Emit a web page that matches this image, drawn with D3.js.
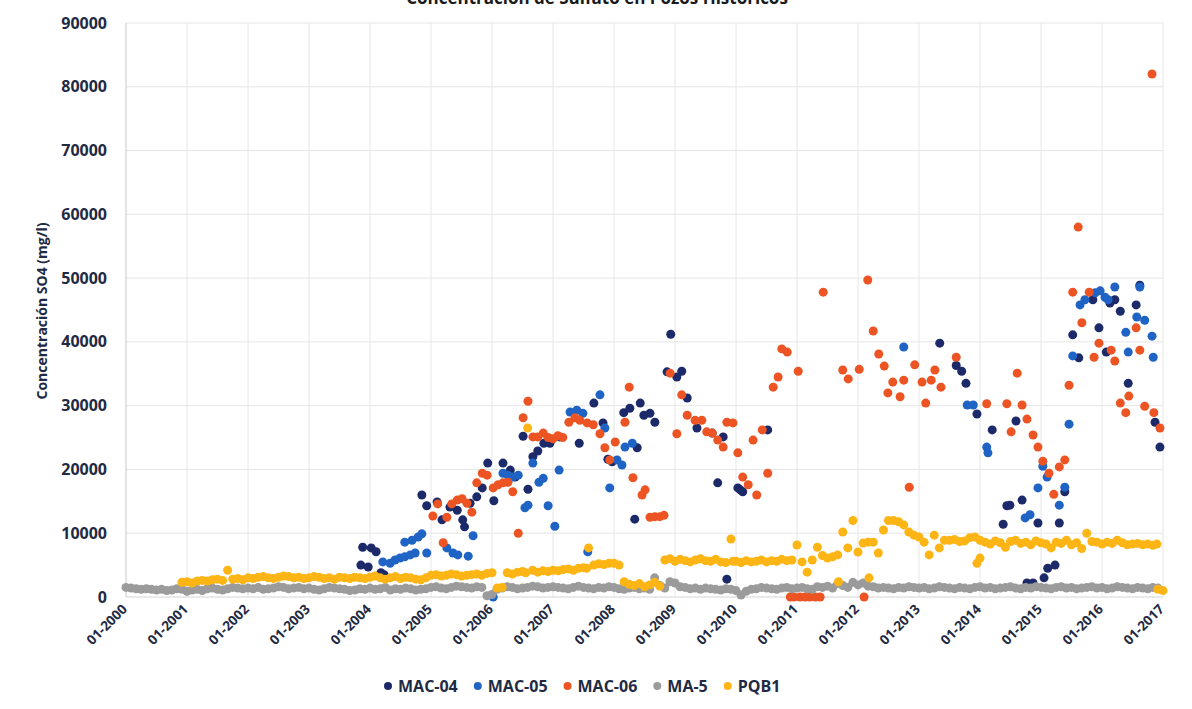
<!DOCTYPE html>
<html>
<head>
<meta charset="utf-8">
<script src="https://cdn.jsdelivr.net/npm/d3@7"></script>
<style>
  body { margin: 0; background: #fff; }
  svg { display: block; font-family: "Open Sans", sans-serif; }
</style>
</head>
<body>
<div id="chart"></div>
<script>
// Series names and colours
var SERIES = ['MAC-04', 'MAC-05', 'MAC-06', 'MA-5', 'PQB1'];
var COLORS = ['#1c2a69', '#1f63c4', '#ec5523', '#9b9b9b', '#fdb515'];

var yearTicks = [2000, 2001, 2002, 2003, 2004, 2005, 2006, 2007, 2008, 2009,
                 2010, 2011, 2012, 2013, 2014, 2015, 2016, 2017];
var valueTicks = [0, 10000, 20000, 30000, 40000, 50000, 60000, 70000, 80000, 90000];

// [decimal year, SO4 mg/l]
var mac04 = [
  [2003.85,5000],[2003.88,7800],[2003.97,4700],[2004.02,7700],[2004.10,7100],[2004.18,3800],[2004.23,3500],
  [2004.85,16000],[2004.93,14300],[2005.10,14900],[2005.18,12100],[2005.31,14100],[2005.43,13600],
  [2005.52,12100],[2005.55,11000],[2005.64,14700],[2005.75,15700],[2005.84,17100],[2005.93,21000],
  [2006.03,15100],[2006.18,21000],[2006.30,19900],[2006.38,18800],[2006.51,25200],[2006.59,16900],
  [2006.67,22000],[2006.75,22900],[2006.85,24100],[2006.95,24100],[2007.11,25100],[2007.43,24100],
  [2007.67,30400],[2007.82,27300],[2007.90,21600],[2007.97,21200],[2008.16,28900],[2008.26,29600],
  [2008.34,12200],[2008.38,23400],[2008.43,30400],[2008.49,28500],[2008.59,28800],[2008.67,27400],
  [2008.87,35300],[2008.93,41200],[2009.03,34500],[2009.11,35400],[2009.20,31200],[2009.36,26500],
  [2009.61,25700],[2009.70,17900],[2009.79,25100],[2009.85,2800],[2010.03,17100],[2010.07,16800],
  [2010.11,16500],[2010.52,26200],
  [2013.34,39800],[2013.61,36300],[2013.70,35400],[2013.77,33500],[2013.95,28700],[2014.20,26200],
  [2014.38,11400],[2014.44,14300],[2014.49,14400],[2014.59,27600],[2014.69,15200],[2014.77,2200],
  [2014.87,2200],[2014.95,11600],[2015.05,3000],[2015.11,4500],[2015.23,5000],[2015.30,11600],
  [2015.39,16500],[2015.52,41100],[2015.62,37500],[2015.85,46600],[2015.95,42200],[2016.07,38400],
  [2016.13,46100],[2016.21,46600],[2016.30,44800],[2016.43,33500],[2016.56,45800],[2016.62,48900],
  [2016.87,27400],[2016.95,23500]
];

var mac05 = [
  [2004.21,5500],[2004.33,5300],[2004.41,5800],[2004.49,6100],[2004.57,6300],[2004.66,6600],[2004.74,6900],
  [2004.57,8600],[2004.69,8900],[2004.79,9400],[2004.85,9900],[2004.93,6900],[2005.26,7700],
  [2005.36,6900],[2005.44,6600],[2005.61,6400],[2005.69,9600],[2006.02,0],[2006.18,19400],
  [2006.26,19100],[2006.34,18800],[2006.43,19100],[2006.54,14000],[2006.59,14400],[2006.67,21000],
  [2006.77,18000],[2006.84,18600],[2006.92,14300],[2007.03,11100],[2007.10,19900],[2007.28,29000],
  [2007.39,29300],[2007.49,28800],[2007.57,7100],[2007.77,31700],[2007.85,26500],[2007.93,17100],
  [2008.05,21500],[2008.13,20700],[2008.18,23500],[2008.30,24100],
  [2012.75,39200],[2013.79,30100],[2013.89,30100],[2014.11,23500],[2014.13,22600],[2014.74,12400],
  [2014.82,12900],[2014.95,17100],[2015.03,20500],[2015.10,18800],[2015.30,14400],[2015.39,17200],
  [2015.46,27100],[2015.52,37800],[2015.64,45800],[2015.72,46600],[2015.89,47700],[2015.97,48000],
  [2016.05,47000],[2016.10,46600],[2016.21,48600],[2016.39,41500],[2016.43,38400],[2016.57,43900],
  [2016.62,48600],[2016.70,43400],[2016.82,40900],[2016.84,37600]
];

var mac06 = [
  [2005.03,12700],[2005.11,14600],[2005.20,8500],[2005.26,12500],[2005.34,14600],[2005.43,15200],
  [2005.51,15400],[2005.59,14700],[2005.67,13300],[2005.75,17900],[2005.84,19400],[2005.92,19100],
  [2006.02,17100],[2006.10,17600],[2006.18,17900],[2006.26,18000],[2006.34,16500],[2006.43,10000],
  [2006.51,28100],[2006.59,30700],[2006.67,25100],[2006.75,25100],[2006.84,25700],[2006.92,25000],
  [2007.00,24800],[2007.08,25300],[2007.16,25000],[2007.26,27400],[2007.36,28100],[2007.44,27700],
  [2007.56,27300],[2007.66,27000],[2007.77,25600],[2007.85,23400],[2007.93,21500],[2008.02,24300],
  [2008.18,27400],[2008.25,32900],[2008.31,18700],[2008.46,16000],[2008.51,16800],[2008.59,12500],
  [2008.67,12600],[2008.75,12600],[2008.82,12800],[2008.92,35100],[2009.03,25600],[2009.11,31700],
  [2009.20,28500],[2009.33,27700],[2009.44,27700],[2009.52,25900],[2009.61,25700],[2009.70,24600],
  [2009.79,23500],[2009.85,27400],[2009.95,27300],[2010.03,22600],[2010.11,18800],[2010.20,17600],
  [2010.28,24600],[2010.34,16000],[2010.43,26200],[2010.52,19400],[2010.61,32900],[2010.69,34500],
  [2010.75,38900],[2010.84,38400],[2010.89,0],[2010.95,0],[2011.02,35400],[2011.05,0],[2011.13,0],
  [2011.21,0],[2011.30,0],[2011.38,0],[2011.43,47800],[2011.75,35600],[2011.84,34200],[2012.02,35700],
  [2012.10,0],[2012.16,49700],[2012.25,41700],[2012.34,38100],[2012.43,36200],[2012.49,32000],
  [2012.57,33700],[2012.69,31400],[2012.75,34000],[2012.84,17200],[2012.93,36400],[2013.05,33700],
  [2013.11,30400],[2013.20,34000],[2013.26,35600],[2013.36,32900],[2013.61,37600],[2014.11,30300],
  [2014.44,30300],[2014.51,25900],[2014.61,35100],[2014.69,30100],[2014.77,27900],[2014.87,25400],
  [2014.95,23500],[2015.03,21300],[2015.13,19400],[2015.21,16100],[2015.30,20400],[2015.39,21500],
  [2015.46,33200],[2015.52,47800],[2015.61,58000],[2015.67,43000],[2015.79,47800],[2015.87,37600],
  [2015.95,39800],[2016.15,38700],[2016.21,37000],[2016.30,30400],[2016.39,28900],[2016.44,31500],
  [2016.56,42200],[2016.62,38700],[2016.70,29900],[2016.82,82000],[2016.85,28900],[2016.95,26500]
];

// MA-5: monthly values from 01-2000 to 12-2016
var ma5Start = 2000;
var ma5Monthly = [
  1500,1400,1300,1200,1300,1200,1100,1200,1000,1100,1300,1200,
  900,1100,1200,1000,1300,1400,1200,1100,1300,1500,1400,1300,
  1400,1300,1500,1200,1300,1400,1600,1500,1300,1400,1500,1300,
  1400,1200,1100,1300,1500,1400,1300,1200,1000,1100,1300,1200,
  1400,1200,1300,1500,1100,1300,1200,1400,1300,1100,1200,1300,
  1500,1600,1400,1300,1500,1700,1600,1500,1400,1600,1500,200,
  400,1200,1400,1600,1500,1300,1400,1500,1700,1600,1400,1500,
  1600,1500,1400,1300,1500,1700,1500,1400,1300,1500,1400,1600,
  1500,1300,1200,1400,1500,1300,1400,1200,3000,1800,1400,2400,
  2200,1600,1500,1300,1400,1200,1400,1300,1200,1100,1300,1200,
  1000,300,900,1200,1300,1500,1400,1300,1200,1400,1500,1300,
  1400,1500,1300,1200,1600,1500,1700,1400,2100,1800,1500,2300,
  1900,2200,1700,1600,1400,1500,1400,1300,1500,1400,1600,1500,
  1400,1500,1300,1400,1600,1500,1400,1300,1500,1400,1300,1500,
  1600,1400,1500,1300,1400,1500,1600,1400,1300,1500,1400,1600,
  1500,1400,1300,1500,1600,1400,1500,1300,1400,1500,1600,1400,
  1500,1300,1400,1600,1500,1400,1300,1500,1400,1300,1500,1400
];

// PQB1: monthly values from 12-2000 to 12-2016, plus extra samples
var pqb1Start = 2000 + 11 / 12;
var pqb1Monthly = [
  2300,
  2400,2200,2500,2600,2500,2700,2800,2600,4200,2800,2900,2700,
  3000,2900,3100,3200,3000,2900,3100,3300,3200,3000,3100,2900,
  3000,3200,3100,2900,3000,2800,3100,3000,2900,3100,3000,2900,
  3100,3300,3000,2800,3000,3200,2900,3100,3000,2800,2700,3000,
  3400,3500,3300,3400,3600,3500,3300,3400,3500,3600,3400,3700,
  3800,1400,1500,3800,3600,3900,4000,26500,4200,3900,4100,4000,
  4200,4100,4300,4400,4200,4500,4600,7700,5000,5200,5100,5300,
  5300,5000,2400,2000,1800,2100,1600,1900,2300,1700,5800,6000,
  5600,5900,5700,5500,5800,6000,5700,5600,5900,5500,5400,9100,
  5600,5400,5700,5500,5600,5800,5500,5700,5600,5900,5700,5800,
  8150,5500,3900,5800,7800,6500,6100,6300,6600,10200,7700,12000,
  7050,8450,8600,8600,6900,10500,12000,12000,11800,11300,10200,9700,
  9400,8600,6600,9700,7700,8900,8900,9000,8700,8800,9300,9400,
  8900,8600,8300,8800,8500,7800,8700,8900,8400,8600,8200,8800,
  8500,8300,7700,8600,8400,8900,8200,8500,7600,10000,8700,8600,
  8300,8600,8400,8900,8500,8200,8300,8400,8200,8300,8100,1200
];
var pqb1Extra = [
  [2006.55,3800],[2007.55,4500],[2009.95,5600],[2011.68,2400],[2012.18,3000],
  [2013.95,5300],[2014.00,6100],[2016.90,8300],[2017.00,1000]
];

var width = 1192, height = 709;
var margin = { left: 126, right: 29, top: 23, bottom: 112 };

var x = d3.scaleLinear().domain([2000, 2017]).range([margin.left, width - margin.right]);
var y = d3.scaleLinear().domain([0, 90000]).range([height - margin.bottom, margin.top]);

function monthly(start, vals) {
  return vals.map(function (v, i) { return [start + i / 12, v]; });
}

var data = [
  mac04,
  mac05,
  mac06,
  monthly(ma5Start, ma5Monthly),
  monthly(pqb1Start, pqb1Monthly).concat(pqb1Extra)
];

var svg = d3.select('#chart').append('svg')
  .attr('width', width)
  .attr('height', height);

// title, cut at the top of the picture as in the scan
svg.append('text')
  .attr('x', 597).attr('y', 4)
  .attr('text-anchor', 'middle')
  .style('font-size', '17px').style('font-weight', 700).style('fill', '#1a1a1a')
  .text('Concentración de Sulfato en Pozos Históricos');

// gridlines
svg.append('g').selectAll('line.h')
  .data(valueTicks.slice(1))
  .enter().append('line')
  .attr('x1', x(2000)).attr('x2', x(2017))
  .attr('y1', function (d) { return y(d); }).attr('y2', function (d) { return y(d); })
  .style('stroke', '#e6e6e6').style('stroke-width', 1);

svg.append('g').selectAll('line.v')
  .data(yearTicks.slice(1))
  .enter().append('line')
  .attr('x1', function (d) { return x(d); }).attr('x2', function (d) { return x(d); })
  .attr('y1', y(90000)).attr('y2', y(0))
  .style('stroke', '#e6e6e6').style('stroke-width', 1);

// axis lines
svg.append('line')
  .attr('x1', x(2000)).attr('x2', x(2000)).attr('y1', y(90000)).attr('y2', y(0))
  .style('stroke', '#c8c8c8');
svg.append('line')
  .attr('x1', x(2000)).attr('x2', x(2017)).attr('y1', y(0)).attr('y2', y(0))
  .style('stroke', '#d4d4d4');

// y tick labels
svg.append('g').selectAll('text')
  .data(valueTicks)
  .enter().append('text')
  .attr('x', 107)
  .attr('y', function (d) { return y(d); })
  .attr('dy', '0.35em')
  .attr('text-anchor', 'end')
  .style('font-size', '16px').style('font-weight', 700).style('fill', '#1f2a44')
  .text(function (d) { return d; });

// x tick labels, rotated
svg.append('g').selectAll('text')
  .data(yearTicks)
  .enter().append('text')
  .attr('transform', function (d) { return 'translate(' + (x(d) + 2) + ',610) rotate(-45)'; })
  .attr('text-anchor', 'end')
  .style('font-size', '13.5px').style('font-weight', 700).style('fill', '#1f2a44')
  .text(function (d) { return '01-' + d; });

// y axis title
svg.append('text')
  .attr('transform', 'translate(47,311) rotate(-90)')
  .attr('text-anchor', 'middle')
  .style('font-size', '14px').style('font-weight', 700).style('fill', '#1f2a44')
  .text('Concentración SO4 (mg/l)');

// points, one group per series (later series drawn on top)
data.forEach(function (pts, i) {
  svg.append('g').selectAll('circle')
    .data(pts)
    .enter().append('circle')
    .attr('cx', function (d) { return x(d[0]); })
    .attr('cy', function (d) { return y(d[1]); })
    .attr('r', 4.5)
    .style('fill', COLORS[i]);
});

// legend
var legend = svg.append('g');
var lx = 384;
SERIES.forEach(function (name, i) {
  legend.append('circle')
    .attr('cx', lx + 4).attr('cy', 686).attr('r', 4)
    .style('fill', COLORS[i]);
  var t = legend.append('text')
    .attr('x', lx + 14).attr('y', 692)
    .style('font-size', '16px').style('font-weight', 700).style('fill', '#1f2a44')
    .text(name);
  lx += 14 + t.node().getComputedTextLength() + 16;
});
</script>
</body>
</html>
